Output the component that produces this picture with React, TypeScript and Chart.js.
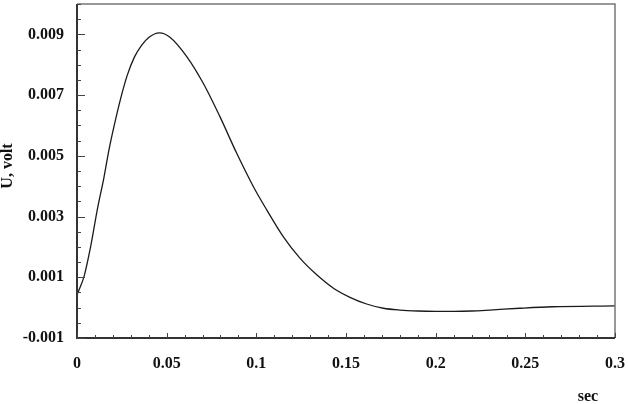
import React, { useEffect, useRef } from "react";
import { Chart, registerables } from "chart.js";

Chart.register(...registerables);

// Time axis values (sec) and voltage (U, volt)
const timeSec = [
  0, 0.0011, 0.0039, 0.0076, 0.0113, 0.0151, 0.0178, 0.0206, 0.0244, 0.028, 0.032,
  0.036, 0.04, 0.046, 0.052, 0.0612, 0.0704, 0.0797, 0.089, 0.0983, 0.1058, 0.115, 0.1243,
  0.1337, 0.143, 0.1522, 0.1615, 0.1708, 0.18, 0.19, 0.2, 0.21, 0.22, 0.23, 0.247, 0.265, 0.3,
];
const voltage = [
  0.00042, 0.00058, 0.00102, 0.00201, 0.00322, 0.00431, 0.00519, 0.00596, 0.0069, 0.00765, 0.00825,
  0.00864, 0.0089, 0.00905, 0.0089, 0.00827, 0.00739, 0.00629, 0.00509, 0.00399, 0.00322, 0.00234, 0.00163,
  0.00108, 0.00064, 0.00034, 0.00012, -0.00002, -0.00008, -0.00011, -0.00012, -0.00012, -0.00011, -0.00008, -0.00002, 0.00003, 0.00006,
];

const xTickLabels = ["0", "0.05", "0.1", "0.15", "0.2", "0.25", "0.3"];
const yTickLabels = ["-0.001", "0.001", "0.003", "0.005", "0.007", "0.009"];

const xTitle = "sec";
const yTitle = "U, volt";

const FONT = "'Liberation Serif', 'DejaVu Serif', serif";

const matchLabel = (labels: string[], v: number) =>
  labels.find((s) => Math.abs(parseFloat(s) - v) < 1e-7);

const framePlugin = {
  id: "frame",
  afterDraw(chart: any) {
    const { ctx, chartArea } = chart;
    const { left, right, top, bottom } = chartArea;
    const xs = chart.scales.x;
    const ys = chart.scales.y;
    ctx.save();
    // top and right border (lighter)
    ctx.strokeStyle = "#777";
    ctx.lineWidth = 1.5;
    ctx.beginPath();
    ctx.moveTo(left, top);
    ctx.lineTo(right, top);
    ctx.lineTo(right, bottom);
    ctx.stroke();
    // left and bottom axes
    ctx.strokeStyle = "#333";
    ctx.lineWidth = 2;
    ctx.beginPath();
    ctx.moveTo(left, top);
    ctx.lineTo(left, bottom);
    ctx.lineTo(right, bottom);
    ctx.stroke();
    // inward ticks
    ctx.strokeStyle = "#444";
    ctx.lineWidth = 1;
    ctx.beginPath();
    xs.ticks.forEach((t: any) => {
      const px = Math.round(xs.getPixelForValue(t.value)) + 0.5;
      const major = !!matchLabel(xTickLabels, t.value);
      ctx.moveTo(px, bottom);
      ctx.lineTo(px, bottom - (major ? 5 : 3));
    });
    ys.ticks.forEach((t: any) => {
      const py = Math.round(ys.getPixelForValue(t.value)) + 0.5;
      const major = !!matchLabel(yTickLabels, t.value);
      ctx.moveTo(left, py);
      ctx.lineTo(left + (major ? 8 : 4), py);
    });
    ctx.stroke();
    // axis titles
    ctx.fillStyle = "#111";
    ctx.font = `bold 16px ${FONT}`;
    ctx.textAlign = "center";
    ctx.textBaseline = "alphabetic";
    ctx.fillText(xTitle, 588, 401);
    ctx.translate(12, 166);
    ctx.rotate(-Math.PI / 2);
    ctx.fillText(yTitle, 0, 0);
    ctx.restore();
  },
};

export default function App() {
  const ref = useRef<HTMLCanvasElement | null>(null);

  useEffect(() => {
    if (!ref.current) return;
    const data = timeSec.map((t, i) => ({ x: t, y: voltage[i] }));
    const chart = new Chart(ref.current, {
      type: "line",
      data: {
        datasets: [
          {
            data,
            borderColor: "#1a1a1a",
            borderWidth: 1.3,
            pointRadius: 0,
            fill: false,
            cubicInterpolationMode: "monotone",
          },
        ],
      },
      options: {
        animation: false,
        responsive: false,
        maintainAspectRatio: false,
        layout: { padding: { left: 0, right: 13, top: 4, bottom: 0 } },
        plugins: { legend: { display: false }, tooltip: { enabled: false } },
        scales: {
          x: {
            type: "linear",
            min: 0,
            max: 0.3,
            grid: { display: false, drawTicks: false },
            border: { display: false },
            ticks: {
              stepSize: 0.01,
              autoSkip: false,
              maxRotation: 0,
              padding: 16,
              color: "#111",
              font: { family: FONT, size: 16, weight: "bold" },
              callback: (v: any) => matchLabel(xTickLabels, Number(v)) ?? "",
            },
            afterFit: (s: any) => {
              s.height = 66;
              s.paddingLeft = 0;
              s.paddingRight = 0;
            },
          },
          y: {
            type: "linear",
            min: -0.001,
            max: 0.01,
            grid: { display: false, drawTicks: false },
            border: { display: false },
            ticks: {
              stepSize: 0.0005,
              autoSkip: false,
              padding: 13,
              color: "#111",
              font: { family: FONT, size: 16, weight: "bold" },
              callback: (v: any) => matchLabel(yTickLabels, Number(v)) ?? "",
            },
            afterFit: (s: any) => {
              s.width = 77;
              s.paddingTop = 0;
              s.paddingBottom = 0;
            },
          },
        },
      },
      plugins: [framePlugin],
    });
    return () => chart.destroy();
  }, []);

  return (
    <div style={{ position: "fixed", left: 0, top: 0, width: 628, height: 404, background: "#fff" }}>
      <canvas ref={ref} width={628} height={404} style={{ width: 628, height: 404 }} />
    </div>
  );
}
